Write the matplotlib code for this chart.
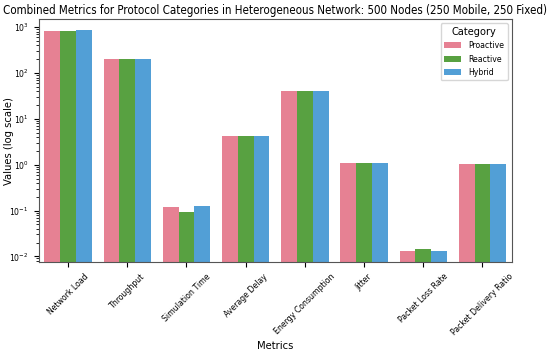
import matplotlib
matplotlib.use("Agg")
import matplotlib.pyplot as plt
import seaborn as sns
import pandas as pd

metrics = ["Network Load", "Throughput", "Simulation Time", "Average Delay",
           "Energy Consumption", "Jitter", "Packet Loss Rate", "Packet Delivery Ratio"]
categories = ["Proactive", "Reactive", "Hybrid"]
proactive = [820, 205, 0.118, 4.25, 41.0, 1.08, 0.0128, 1.03]
reactive = [820, 205, 0.093, 4.25, 41.0, 1.08, 0.0144, 1.03]
hybrid = [850, 205, 0.128, 4.25, 41.0, 1.08, 0.0132, 1.03]

plt.rcParams["font.family"] = ["DejaVu Sans"]
plt.rcParams["font.stretch"] = "condensed"

rows = []
for cat, vals in zip(categories, [proactive, reactive, hybrid]):
    for m, v in zip(metrics, vals):
        rows.append({"Metrics": m, "Value": v, "Category": cat})
df = pd.DataFrame(rows)

fig = plt.figure(figsize=(5.5, 3.55), dpi=100)
ax = fig.add_axes([0.07, 0.261, 0.861, 0.685])
sns.barplot(data=df, x="Metrics", y="Value", hue="Category", palette="husl",
            order=metrics, hue_order=categories, ax=ax)
ax.set_yscale("log")
ax.set_ylim(0.0074, 1500)
ax.set_title("Combined Metrics for Protocol Categories in Heterogeneous Network: 500 Nodes (250 Mobile, 250 Fixed)",
             fontsize=8.3, pad=4)
ax.set_xlabel("Metrics", fontsize=8)
ax.set_ylabel("Values (log scale)", fontsize=8)
ax.yaxis.set_label_coords(-0.052, 0.5)
ax.xaxis.set_label_coords(0.5, -0.325)
ax.tick_params(axis="both", labelsize=6.2)
for lab in ax.get_xticklabels():
    lab.set_rotation(45)
    lab.set_ha("center")
leg = ax.legend(title="Category", fontsize=6.2, title_fontsize=7.8, loc="upper right")
for s in ax.spines.values():
    s.set_color("#555555")
fig.savefig("out.png", dpi=100)
